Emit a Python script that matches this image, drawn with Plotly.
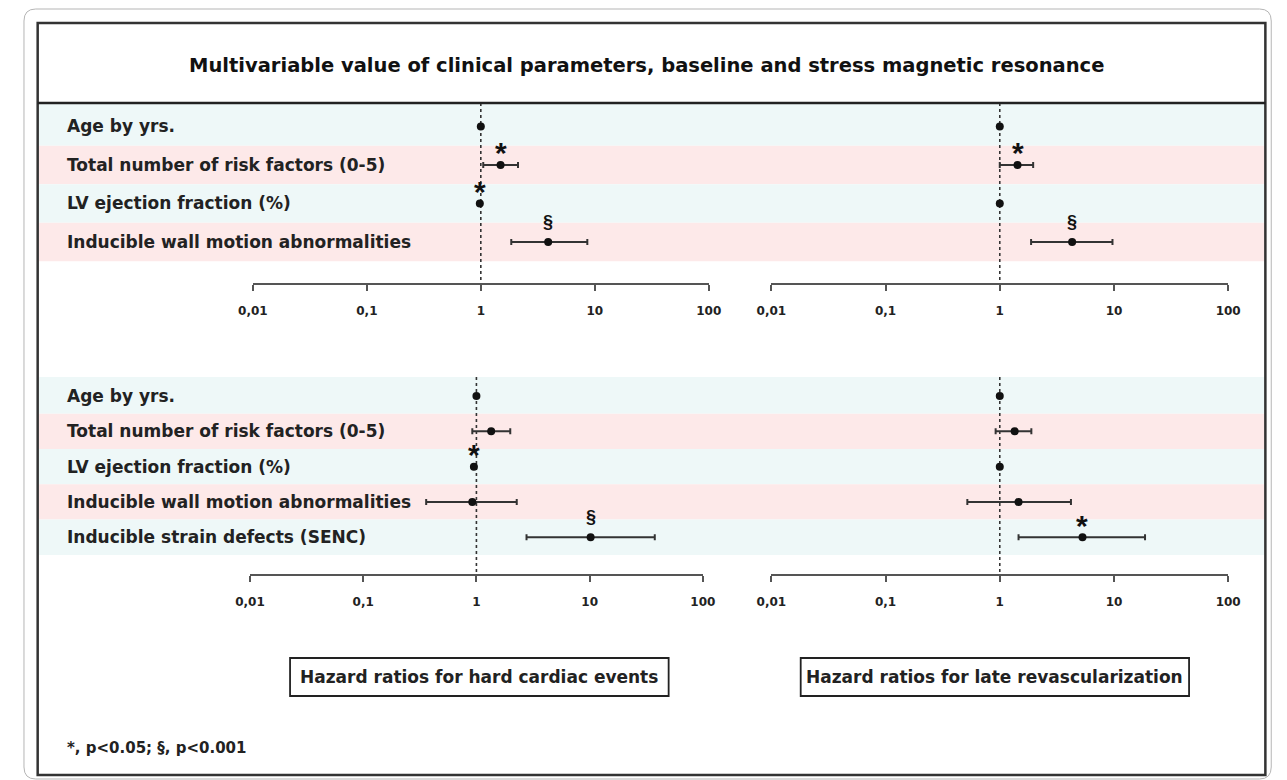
import math
import plotly.graph_objects as go

W, H = 1287, 780
OFF = 8  # default page body margin; reference pixel positions are shifted by it

# ---------------- data ----------------
title_text = "Multivariable value of clinical parameters, baseline and stress magnetic resonance"

top_labels = ["Age by yrs.", "Total number of risk factors (0-5)",
              "LV ejection fraction (%)", "Inducible wall motion abnormalities"]
bottom_labels = ["Age by yrs.", "Total number of risk factors (0-5)",
                 "LV ejection fraction (%)", "Inducible wall motion abnormalities",
                 "Inducible strain defects (SENC)"]

# top-left: hard cardiac events (clinical + baseline + stress WMA)
tl_hr = [1.00, 1.49, 0.98, 3.90]
tl_lo = [0.985, 1.05, 0.965, 1.85]
tl_hi = [1.015, 2.12, 0.99, 8.60]
tl_sig = ["", "*", "*", "§"]

# top-right: late revascularization
tr_hr = [1.00, 1.43, 1.00, 4.30]
tr_lo = [0.985, 1.00, 0.99, 1.88]
tr_hi = [1.015, 1.96, 1.01, 9.70]
tr_sig = ["", "*", "", "§"]

# bottom-left: hard cardiac events (with SENC)
bl_hr = [1.00, 1.35, 0.95, 0.92, 10.2]
bl_lo = [0.985, 0.92, 0.94, 0.36, 2.77]
bl_hi = [1.015, 1.99, 0.96, 2.27, 37.6]
bl_sig = ["", "", "*", "", "§"]

# bottom-right: late revascularization (with SENC)
br_hr = [1.00, 1.35, 1.00, 1.46, 5.30]
br_lo = [0.985, 0.92, 0.99, 0.52, 1.46]
br_hi = [1.015, 1.89, 1.01, 4.20, 18.7]
br_sig = ["", "", "", "", "*"]

tick_vals = [0.01, 0.1, 1, 10, 100]
tick_text = ["0,01", "0,1", "1", "10", "100"]
reference_hr = 1
box_titles = ["Hazard ratios for hard cardiac events",
              "Hazard ratios for late revascularization"]
footnote = "*, p<0.05; §, p<0.001"

# ---------------- helpers ----------------
def px(x):
    return (x - OFF) / W

def py(y):
    return 1 - (y - OFF) / H

FONT = "DejaVu Sans"
INK = "#222222"
CYAN = "#eef8f8"
PINK = "#fde9e9"

top_range = [4.065, -0.61]
bot_range = [5.04, -0.538]

fig = go.Figure()
annotations = []

def add_panel(hr, lo, hi, sig, xa, ya, yrange):
    rows = list(range(len(hr)))
    fig.add_trace(go.Scatter(
        x=[reference_hr, reference_hr], y=[yrange[1], yrange[0]],
        mode="lines", xaxis=xa, yaxis=ya, hoverinfo="skip",
        line=dict(color="#333333", width=1.6, dash="3px,3px"), showlegend=False))
    fig.add_trace(go.Scatter(
        x=hr, y=rows, mode="markers", xaxis=xa, yaxis=ya, showlegend=False,
        marker=dict(color="#111111", size=8),
        error_x=dict(type="data", symmetric=False,
                     array=[h - m for h, m in zip(hi, hr)],
                     arrayminus=[m - l for m, l in zip(hr, lo)],
                     color="#333333", thickness=2, width=3)))
    for r, (h, s) in enumerate(zip(hr, sig)):
        if not s:
            continue
        star = s == "*"
        annotations.append(dict(
            text=s, x=math.log10(h), y=r, xref=xa, yref=ya, showarrow=False,
            xanchor="center", yanchor="middle", yshift=12 if star else 20,
            font=dict(family="Liberation Sans", size=30 if star else 18,
                      color="#111111", weight="bold")))

add_panel(tl_hr, tl_lo, tl_hi, tl_sig, "x", "y", top_range)
add_panel(tr_hr, tr_lo, tr_hi, tr_sig, "x2", "y", top_range)
add_panel(bl_hr, bl_lo, bl_hi, bl_sig, "x3", "y2", bot_range)
add_panel(br_hr, br_lo, br_hi, br_sig, "x4", "y2", bot_range)

xaxis_common = dict(
    type="log", range=[-2, 2], tickvals=tick_vals, ticktext=tick_text,
    showline=True, linecolor="#555555", linewidth=2, mirror=False,
    ticks="outside", ticklen=6, tickwidth=2, tickcolor="#555555",
    showgrid=False, zeroline=False, ticklabelstandoff=10,
    tickfont=dict(family=FONT, size=12, color=INK, weight="bold"))

yaxis_common = dict(showgrid=False, zeroline=False, showline=False,
                    showticklabels=False, ticks="")

fig.update_layout(
    width=W, height=H,
    margin=dict(l=0, r=0, t=0, b=0),
    paper_bgcolor="white", plot_bgcolor="rgba(0,0,0,0)",
    showlegend=False,
    xaxis=dict(domain=[px(243), px(709)], anchor="y", **xaxis_common),
    xaxis2=dict(domain=[px(773), px(1240)], anchor="y", **xaxis_common),
    xaxis3=dict(domain=[px(240), px(703)], anchor="y2", **xaxis_common),
    xaxis4=dict(domain=[px(773), px(1240)], anchor="y2", **xaxis_common),
    yaxis=dict(domain=[py(283), py(103)], range=top_range, anchor="x", **yaxis_common),
    yaxis2=dict(domain=[py(574), py(377)], range=bot_range, anchor="x3", **yaxis_common),
)

shapes = []
r = 12
x0, y0, x1, y1 = 9, 9, 1284, 779
path = (f"M {px(x0 + r)} {py(y0)} L {px(x1 - r)} {py(y0)} "
        f"Q {px(x1)} {py(y0)} {px(x1)} {py(y0 + r)} "
        f"L {px(x1)} {py(y1 - r)} Q {px(x1)} {py(y1)} {px(x1 - r)} {py(y1)} "
        f"L {px(x0 + r)} {py(y1)} Q {px(x0)} {py(y1)} {px(x0)} {py(y1 - r)} "
        f"L {px(x0)} {py(y0 + r)} Q {px(x0)} {py(y0)} {px(x0 + r)} {py(y0)} Z")
shapes.append(dict(type="path", path=path, xref="paper", yref="paper",
                   line=dict(color="#b5b5b5", width=1), layer="below"))

def bands(n, yref, yrange):
    for i in range(n):
        b0 = i - 0.5 if i > 0 else yrange[1]
        shapes.append(dict(type="rect", xref="paper", yref=yref,
                           x0=px(24), x1=px(1277), y0=b0, y1=i + 0.5,
                           fillcolor=CYAN if i % 2 == 0 else PINK,
                           line=dict(width=0), layer="below"))

bands(len(top_labels), "y", top_range)
bands(len(bottom_labels), "y2", bot_range)

shapes.append(dict(type="rect", xref="paper", yref="paper",
                   x0=px(23), x1=px(1278), y0=py(775), y1=py(23),
                   line=dict(color="#333333", width=2.5)))
shapes.append(dict(type="line", xref="paper", yref="paper",
                   x0=px(23), x1=px(1278), y0=py(103), y1=py(103),
                   line=dict(color="#222222", width=2.5)))
shapes.append(dict(type="rect", xref="paper", yref="paper",
                   x0=px(281), x1=px(668), y0=py(696), y1=py(658),
                   line=dict(color="#222222", width=1.8)))
shapes.append(dict(type="rect", xref="paper", yref="paper",
                   x0=px(803), x1=px(1200), y0=py(696), y1=py(658),
                   line=dict(color="#222222", width=1.8)))

annotations.append(dict(text=title_text, x=px(645), y=py(66), xref="paper", yref="paper",
                        showarrow=False, xanchor="center", yanchor="middle",
                        font=dict(family=FONT, size=19.5, color="#111111", weight="bold")))
for i, lab in enumerate(top_labels):
    annotations.append(dict(text=lab, x=px(51), y=i, xref="paper", yref="y",
                            showarrow=False, xanchor="left", yanchor="middle",
                            font=dict(family=FONT, size=17, color=INK, weight="bold")))
for i, lab in enumerate(bottom_labels):
    annotations.append(dict(text=lab, x=px(51), y=i, xref="paper", yref="y2",
                            showarrow=False, xanchor="left", yanchor="middle",
                            font=dict(family=FONT, size=17, color=INK, weight="bold")))
annotations.append(dict(text=box_titles[0], x=px(474.5), y=py(677), xref="paper", yref="paper",
                        showarrow=False, xanchor="center", yanchor="middle",
                        font=dict(family=FONT, size=17, color=INK, weight="bold")))
annotations.append(dict(text=box_titles[1], x=px(1001.5), y=py(677), xref="paper", yref="paper",
                        showarrow=False, xanchor="center", yanchor="middle",
                        font=dict(family=FONT, size=17, color=INK, weight="bold")))
annotations.append(dict(text=footnote, x=px(51), y=py(748), xref="paper", yref="paper",
                        showarrow=False, xanchor="left", yanchor="middle",
                        font=dict(family=FONT, size=15, color=INK, weight="bold")))

fig.update_layout(shapes=shapes, annotations=annotations)

fig.write_html("out.html")
